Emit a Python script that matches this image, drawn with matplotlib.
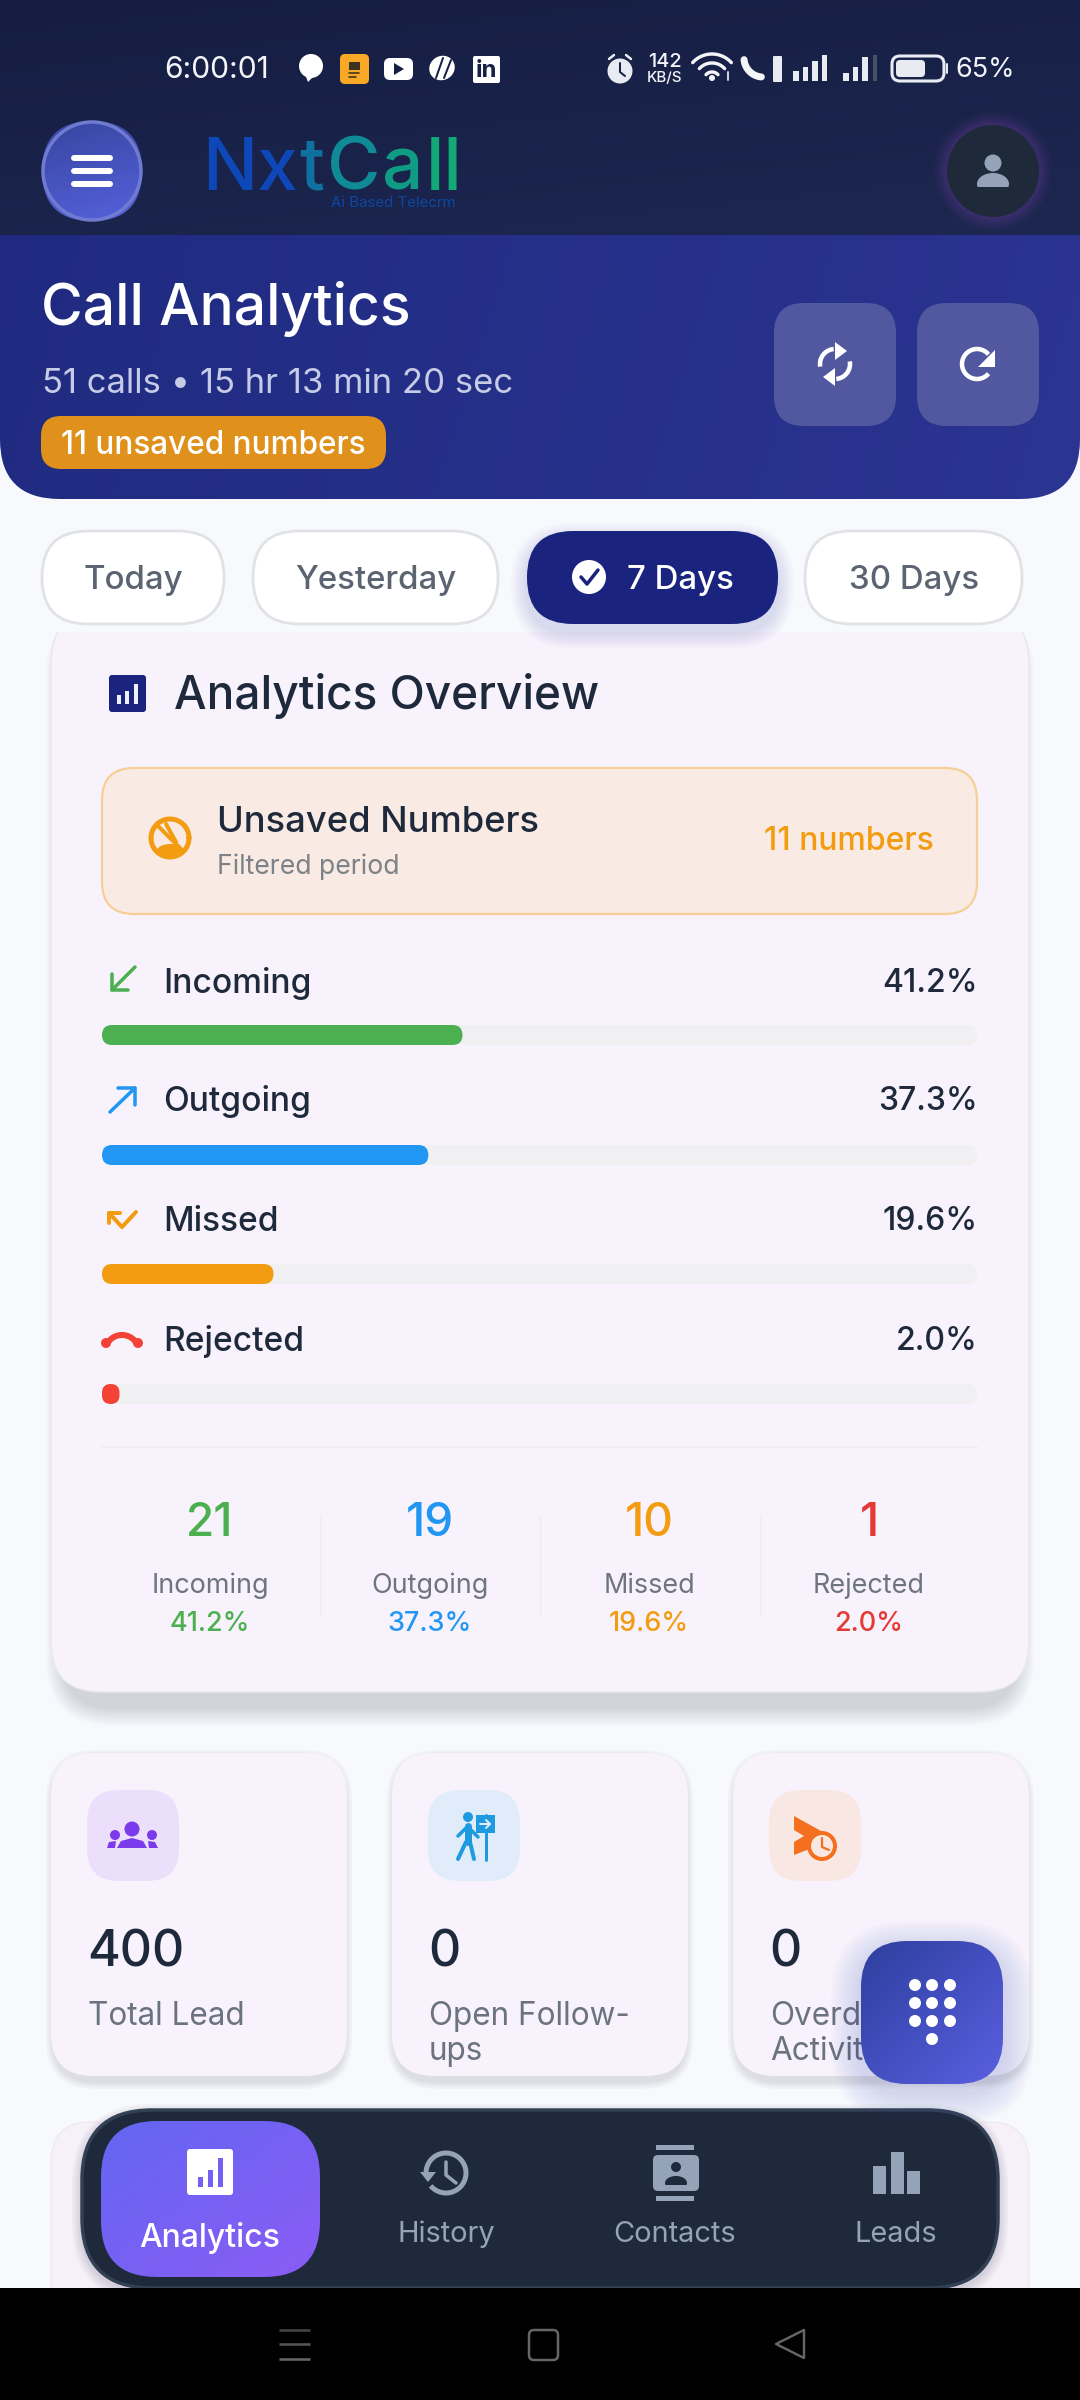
import numpy as np
import matplotlib
matplotlib.use("Agg")
import matplotlib.pyplot as plt
from matplotlib.colors import to_rgb
from matplotlib.patches import FancyBboxPatch, Circle, Polygon, Rectangle, Ellipse

plt.rcParams["font.family"] = ["Inter", "DejaVu Sans"]

# Values
call_types = ["Incoming", "Outgoing", "Missed", "Rejected"]
call_pcts = [41.2, 37.3, 19.6, 2.0]
call_counts = [21, 19, 10, 1]
call_colors = ["#4caf50", "#2196f3", "#f39c12", "#f44336"]
stat_colors = ["#4caf50", "#2196f3", "#f39c12", "#e53935"]
tabs = ["Today", "Yesterday", "7 Days", "30 Days"]
lead_labels = ["Total Lead", "Open Follow-\nups", "Overdue\nActivities"]
lead_values = [400, 0, 0]
nav_labels = ["Analytics", "History", "Contacts", "Leads"]
logo_parts = ["Nx", "t", "C", "a", "ll"]

fig = plt.figure(figsize=(10.8, 24), dpi=100)
ax = fig.add_axes([0, 0, 1, 1])
ax.set_xlim(0, 1080)
ax.set_ylim(2400, 0)
ax.axis("off")


def box(x0, y0, x1, y1, r, fc, ec="none", lw=0, alpha=None, z=1):
    r = min(r, (x1 - x0) / 2, (y1 - y0) / 2)
    p = FancyBboxPatch((x0, y0), x1 - x0, y1 - y0, boxstyle=f"round,pad=0,rounding_size={r}",
                       fc=fc, ec=ec, lw=lw, alpha=alpha, zorder=z)
    ax.add_patch(p)
    return p


def grad(x0, y0, x1, y1, r, c0, c1, dx=1, dy=1, z=1):
    # linear gradient clipped by a rounded box
    u, v = np.meshgrid(np.linspace(0, 1, 200), np.linspace(0, 1, 200))
    t = ((u * dx + v * dy) / (dx + dy))[..., None]
    img = np.array(to_rgb(c0)) * (1 - t) + np.array(to_rgb(c1)) * t
    p = box(x0, y0, x1, y1, r, "none", z=z)
    im = ax.imshow(img, extent=(x0, x1, y1, y0), aspect="auto", zorder=z, interpolation="bilinear")
    im.set_clip_path(p)


def shadow(x0, y0, x1, y1, r, color="#1e293b", spread=24, off=8, a=0.012, z=1, inset=0):
    for s in range(spread, 0, -2):
        box(x0 + inset - s, y0 - s + off, x1 - inset + s, y1 + s + off, r + s, color, alpha=a, z=z)


def T(x, y, s, px, color, weight="normal", ha="left", z=10, **kw):
    # the 0.08 moves matplotlib's box centre onto the visual centre of the letters
    return ax.text(x, y + 0.08 * px, s, fontsize=px * 0.72, color=color, fontweight=weight,
                   ha=ha, va="center", zorder=z, **kw)


def L(xs, ys, color, lw, z=10, cap="round"):
    ax.plot(xs, ys, color=color, lw=lw * 0.72, solid_capstyle=cap, solid_joinstyle="round", zorder=z)


def arc(cx, cy, r, a0, a1, color, lw, z=10, cap="round"):
    a = np.radians(np.linspace(a0, a1, 50))
    L(cx + r * np.cos(a), cy + r * np.sin(a), color, lw, z, cap)


def circ(x, y, r, fc, ec="none", lw=0, z=10):
    ax.add_patch(Circle((x, y), r, fc=fc, ec=ec, lw=lw * 0.72, zorder=z))


def poly(pts, fc, z=10):
    ax.add_patch(Polygon(pts, closed=True, fc=fc, ec="none", zorder=z))


# page background
ax.add_patch(Rectangle((0, 0), 1080, 2400, fc="#f8f9fd", ec="none", zorder=0))

# ---- overview card
shadow(51, 612, 1029, 1692, 50, spread=18, off=15, a=0.02, z=1, inset=13)
box(51, 612, 1029, 1692, 50, "#f7f2fb", "#e9e7ed", 1, z=2)
ax.add_patch(Rectangle((0, 500), 1080, 132, fc="#f8f9fd", ec="none", zorder=3))

box(109, 675, 146, 712, 3, "#1a237e", z=4)
for bx, by in [(117, 695), (125, 691), (134, 684)]:
    ax.add_patch(Rectangle((bx, by), 4, 704 - by, fc="#eef0fa", zorder=5))
T(174, 692, "Analytics Overview", 46, "#1e293b", "medium", z=4)

box(102, 768, 977, 914, 32, "#f9ebe3", "#f7cf95", 1.6, z=4)
arc(170, 838, 19, 0, 360, "#f39c12", 5, z=5)
L([157, 183], [825, 851], "#f39c12", 4, z=5)
ax.add_patch(Ellipse((170, 851), 26, 14, fc="#f39c12", zorder=5))
L([166, 176], [824, 842], "#f39c12", 4, z=5)
T(217, 820, "Unsaved Numbers", 36.3, "#1e293b", "medium", z=5)
T(217, 865, "Filtered period", 26.6, "#7d8288", z=5)
T(934, 839, "11 numbers", 32, "#f39c12", "medium", ha="right", z=5)

# progress rows
label_ys = [981, 1099, 1219, 1339]
bar_ys = [1025, 1145, 1264, 1384]
bar_x0, bar_x1 = 102, 977
for name, pct, col, ly, by in zip(call_types, call_pcts, call_colors, label_ys, bar_ys):
    T(163, ly, name, 33.5, "#1e293b", "medium", z=5)
    T(978, ly, f"{pct:.1f}%", 32, "#1e293b", "medium", ha="right", z=5)
    box(bar_x0, by, bar_x1, by + 20, 10, "#f0f0f2", z=4)
    box(bar_x0, by, bar_x0 + (bar_x1 - bar_x0) * pct / 100, by + 20, 10, col, z=5)

# row icons
L([135, 112], [967, 990], call_colors[0], 3.5)
L([112, 112, 128], [974, 990, 990], call_colors[0], 3.5)
L([110, 135], [1112, 1088], call_colors[1], 3.5)
L([118, 135, 135], [1088, 1088, 1105], call_colors[1], 3.5)
L([136, 122, 109], [1212, 1227, 1213], call_colors[2], 4)
L([109, 109, 120], [1223, 1213, 1213], call_colors[2], 4)
arc(122, 1352, 17, 215, 325, call_colors[3], 6)
circ(106, 1343, 5, call_colors[3])
circ(138, 1343, 5, call_colors[3])

# summary row
L([102, 977], [1447, 1447], "#ededf0", 1.6, z=4)
stat_xs = [210, 430, 649, 869]
for name, n, pct, col, sx in zip(call_types, call_counts, call_pcts, stat_colors, stat_xs):
    T(sx, 1520, str(n), 46, col, "medium", ha="center", z=5)
    T(sx, 1584, name, 27, "#6f7580", ha="center", z=5)
    T(sx, 1622, f"{pct:.1f}%", 27, col, "medium", ha="center", z=5)
for vx in [320, 540, 760]:
    L([vx, vx], [1515, 1615], "#ededf0", 1.4, z=4)

# ---- lead cards
card_xs = [(51, 347), (392, 688), (733, 1029)]
icon_bgs = ["#ebdffb", "#e1ecfb", "#f9e7e4"]
for (x0, x1), lab, val, bg in zip(card_xs, lead_labels, lead_values, icon_bgs):
    shadow(x0, 1753, x1, 2076, 42, spread=8, off=5, a=0.03, z=2, inset=3)
    box(x0, 1753, x1, 2076, 42, "#f7f2fb", z=3)
    box(x0 + 36, 1790, x0 + 128, 1881, 32, bg, z=4)
    T(x0 + 36, 1949, str(val), 50, "#1e293b", "medium", z=5)
    T(x0 + 37, 2014, lab.split("\n")[0], 31.5, "#6b7280", z=5)
    if "\n" in lab:
        T(x0 + 37, 2049, lab.split("\n")[1], 31.5, "#6b7280", z=5)

# group icon
purple = "#7c3aed"
for hx, hy, hr in [(132, 1829, 7.5), (115, 1835, 5), (152, 1835, 5)]:
    circ(hx, hy, hr, purple)
poly([(117, 1848), (121, 1841), (132, 1838), (143, 1841), (147, 1848)], purple)
poly([(107, 1848), (109, 1842), (116, 1841), (115, 1848)], purple)
poly([(149, 1848), (148, 1841), (155, 1842), (158, 1848)], purple)

# walker icon
cy = "#1e9be0"
circ(468, 1817, 5, cy)
L([468, 468], [1826, 1842], cy, 7)
L([468, 458], [1826, 1836], cy, 3.5)
L([468, 478], [1827, 1837], cy, 3.5)
L([466, 458], [1842, 1859], cy, 4)
L([470, 474], [1842, 1859], cy, 4)
L([486, 486], [1815, 1860], cy, 3)
ax.add_patch(Rectangle((476, 1815), 19, 18, fc=cy, zorder=10))
L([480, 490], [1824, 1824], "#e1ecfb", 2)
L([486, 490, 486], [1820, 1824, 1828], "#e1ecfb", 2)

# overdue icon
oc = "#f4701f"
poly([(794, 1816), (830, 1836), (812, 1848), (794, 1855), (794, 1842), (804, 1836), (794, 1830)], oc)
circ(822, 1846, 13, "#f9e7e4", oc, 4)
L([822, 822, 829], [1838, 1847, 1850], oc, 2.2)

# ---- header
grad(0, 150, 1080, 499, 60, "#1f2a80", "#2b3592", dx=1, dy=0.1, z=5)
grad(0, 0, 1080, 235, 0, "#151d42", "#1d2750", dx=0.5, dy=1, z=6)

T(164, 68, "6:00:01", 30, "#f4f5f8", ha="left", z=12)
# notification icons
circ(311, 66, 12, "#ffffff", z=12)
poly([(305, 74), (316, 74), (308, 82)], "#ffffff", z=12)
box(340, 54, 369, 84, 5, "#f9a825", z=12)
ax.add_patch(Rectangle((349, 62), 11, 8, fc="#3a3320", zorder=13))
L([349, 359], [73, 73], "#3a3320", 1.6, z=13)
L([349, 356], [77, 77], "#3a3320", 1.6, z=13)
box(384, 58, 413, 80, 6, "#ffffff", z=12)
poly([(394, 63), (394, 75), (404, 69)], "#161f45", z=13)
ax.add_patch(Ellipse((442, 68), 26, 24, angle=-30, fc="#ffffff", zorder=12))
L([436, 443], [78, 58], "#161f45", 2, z=13)
L([444, 451], [78, 60], "#161f45", 2, z=13)
box(473, 56, 500, 83, 2, "#ffffff", z=12)
T(486.5, 69, "in", 24, "#161f45", "bold", ha="center", z=13)
# status icons
circ(620, 71, 12.5, "#e8ebf2", z=12)
L([620, 620, 625], [63, 72, 76], "#161f45", 2, z=13)
L([609, 614], [59, 55], "#e8ebf2", 2.5, z=12)
L([631, 626], [59, 55], "#e8ebf2", 2.5, z=12)
T(665, 60, "142", 20, "#f4f5f8", "medium", ha="center", z=12)
T(665, 77, "KB/S", 15, "#f4f5f8", "medium", ha="center", z=12)
for wr in [8, 17, 26]:
    arc(712, 80, wr, 222, 318, "#f4f5f8", 3.4, z=12)
circ(712, 78, 3, "#f4f5f8", z=12)
L([728, 728], [72, 80], "#cfd3dc", 2, z=12)
arc(763, 58, 19, 95, 175, "#f4f5f8", 7, z=12)
box(773, 56, 782, 82, 1, "#e8ebf2", z=12)
for sx0, hs in [(793, [10, 14, 20, 26]), (843, [8, 14, 24, 0])]:
    for k, h in enumerate(hs):
        if h:
            ax.add_patch(Rectangle((sx0 + k * 9.5, 81 - h), 5.5, h, fc="#e8ebf2", zorder=12))
ax.add_patch(Rectangle((873, 55), 4, 26, fc="#4a5068", zorder=12))
box(892, 56, 944, 81, 8, "none", "#e8ebf2", 2.2, z=12)
box(896, 60, 925, 77, 4, "#e8ebf2", z=12)
L([947, 947], [64, 73], "#e8ebf2", 2, z=12)
T(955, 68, "65%", 27, "#f4f5f8", z=12)

# hamburger button
grad(42, 121, 142, 221, 50, "#36469f", "#5661dc", dx=0.3, dy=1, z=7)
circ(92, 171, 49, "none", "#6f7bd0", 3.5, z=8)
for hy in [158, 171, 184]:
    L([74, 110], [hy, hy], "#ffffff", 6, z=9)

# logo, each piece placed where the last one ends
logo_cols = ["#0d47b8", "#10709f", "#0f8a96", "#0f9b84", "#12a878"]
lx = 202
renderer = fig.canvas.get_renderer()
for part, lc in zip(logo_parts, logo_cols):
    lt = T(lx, 165, part, 73, lc, "medium", z=9)
    lx = lt.get_window_extent(renderer).x1 + 2
T(456, 202, "Ai Based Telecrm", 15, "#0d47a1", ha="right", z=9)

# profile button
for s, a in zip(range(14, 0, -2), [0.03, 0.03, 0.04, 0.05, 0.05, 0.06, 0.06]):
    circ(993, 171, 46 + s, (0.55, 0.3, 0.75, a), z=7)
circ(993, 171, 46, "#1e2a3a", z=8)
circ(993, 163, 8.5, "#94a3b8", z=9)
ax.add_patch(Ellipse((993, 184), 32, 22, fc="#94a3b8", zorder=9))
ax.add_patch(Rectangle((975, 187), 36, 12, fc="#1e2a3a", zorder=9))

# header text
T(41, 304, "Call Analytics", 57, "#ffffff", "medium", z=9)
T(42, 381, "51 calls \u2022 15 hr 13 min 20 sec", 34.7, "#c6cbe6", z=9)
box(41, 416, 386, 469, 20, "#df911c", z=8)
T(61, 443, "11 unsaved numbers", 31.5, "#ffffff", "medium", z=9)

# sync / refresh buttons
box(774, 303, 896, 426, 30, "#52589f", z=8)
box(917, 303, 1039, 426, 30, "#52589f", z=8)
arc(835, 364, 15, 170, 265, "#ffffff", 4.5, z=9, cap="butt")
arc(835, 364, 15, -10, 85, "#ffffff", 4.5, z=9, cap="butt")
poly([(835, 342), (835, 360), (847, 351)], "#ffffff", z=9)
poly([(835, 386), (835, 368), (823, 377)], "#ffffff", z=9)
arc(977, 364, 15, 40, 320, "#ffffff", 4.5, z=9, cap="butt")
poly([(995, 350), (995, 367), (978, 367)], "#ffffff", z=9)

# ---- tabs
tab_xs = [(42, 224), (253, 498), (527, 778), (805, 1022)]
tab_cx = [133, 376, 680, 914]
for i, (name, (x0, x1), cx) in enumerate(zip(tabs, tab_xs, tab_cx)):
    if name == "7 Days":
        shadow(x0, 531, x1, 624, 46, color="#1a237e", spread=16, off=8, a=0.015, z=4)
        box(x0, 531, x1, 624, 46, "#1a237e", z=5)
        T(cx, 578, name, 33, "#ffffff", "medium", ha="center", z=6)
    else:
        box(x0, 531, x1, 624, 46, "#ffffff", "#e0e2e6", 2, z=5)
        T(cx, 578, name, 33, "#5b6470", "medium", ha="center", z=6)
circ(589, 577, 17, "#ffffff", z=6)
L([581, 587, 598], [577, 584, 570], "#1a237e", 3.5, z=7)

# ---- back card, nav bar, fab
box(51, 2122, 1029, 2320, 40, "#f6f0f9", "#eeeaf1", 1, z=4)
shadow(82, 2110, 998, 2288, 70, spread=10, off=4, a=0.03, z=5)
box(82, 2110, 998, 2288, 70, "#1e293b", "#334155", 2.5, z=6)
grad(101, 2121, 320, 2277, 56, "#6366f1", "#8b5cf6", dx=1, dy=1, z=7)

box(187, 2149, 233, 2195, 3, "#ffffff", z=8)
for bx, by in [(198, 2177), (208, 2170), (218, 2158)]:
    ax.add_patch(Rectangle((bx, by), 5, 2187 - by, fc="#7460f3", zorder=9))
nav_xs = [210, 446, 675, 896]
nav_ys = [2235, 2232, 2232, 2232]
for i, (name, nx, ny) in enumerate(zip(nav_labels, nav_xs, nav_ys)):
    if i == 0:
        T(nx, ny, name, 32, "#ffffff", "medium", ha="center", z=9)
    else:
        T(nx, ny, name, 29, "#94a3b8", ha="center", z=9)

gray = "#94a3b8"
# history
arc(446, 2173, 20, 180, 500, gray, 5, z=8, cap="butt")
poly([(420, 2172), (436, 2172), (428, 2182)], gray, z=8)
L([446, 446, 456], [2162, 2175, 2183], gray, 3.5, z=8)
# contacts
ax.add_patch(Rectangle((656, 2145), 38, 5, fc=gray, zorder=8))
ax.add_patch(Rectangle((656, 2196), 38, 5, fc=gray, zorder=8))
box(653, 2155, 699, 2191, 5, gray, z=8)
circ(676, 2167, 5, "#1e293b", z=9)
ax.add_patch(Ellipse((676, 2183), 22, 14, fc="#1e293b", zorder=9))
ax.add_patch(Rectangle((663, 2185), 26, 6, fc=gray, zorder=9))
# leads
for bx, by in [(873, 2166), (891, 2152), (907, 2171)]:
    ax.add_patch(Rectangle((bx, by), 13, 2194 - by, fc=gray, zorder=8))

# fab on top of cards
shadow(861, 1941, 1003, 2084, 46, color="#3a45b8", spread=30, off=10, a=0.012, z=6)
grad(861, 1941, 1003, 2084, 46, "#2d3f9e", "#5a5fe0", dx=1, dy=1, z=7)
for fy in [1985, 2003, 2021]:
    for fx in [915, 932, 950]:
        ax.add_patch(Ellipse((fx, fy), 12, 12, fc="#ffffff", zorder=8))
ax.add_patch(Ellipse((932, 2039), 12, 12, fc="#ffffff", zorder=8))

# ---- android nav
ax.add_patch(Rectangle((0, 2288), 1080, 112, fc="#000000", zorder=20))
for ny, c in [(2330, "#444444"), (2344, "#555555"), (2359, "#666666")]:
    L([279, 310], [ny, ny], c, 2.6, z=21, cap="butt")
box(529, 2330, 558, 2360, 5, "none", "#666666", 1.8, z=21)
L([804, 804, 776, 804], [2330, 2358, 2344, 2330], "#666666", 2.4, z=21)

ax.set_xlim(0, 1080)
ax.set_ylim(2400, 0)
fig.savefig("out.png", dpi=100)
